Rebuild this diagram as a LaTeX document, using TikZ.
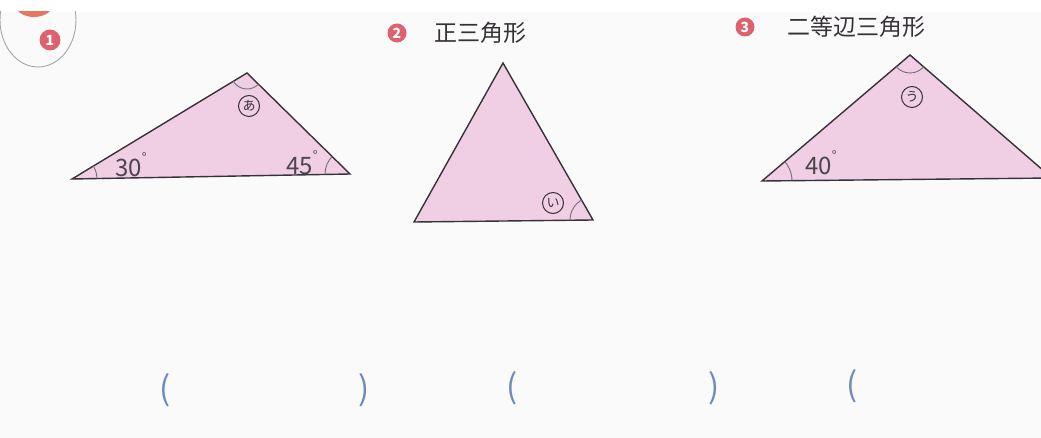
\documentclass[tikz,border=0pt]{standalone}
\usepackage{fontspec}
\setmainfont{Noto Sans CJK JP}
\definecolor{tri}{RGB}{240,206,228}
\definecolor{edge}{RGB}{55,50,55}
\definecolor{numred}{RGB}{222,98,110}
\definecolor{paren}{RGB}{108,140,186}
\definecolor{bg}{RGB}{250,250,251}
\definecolor{blob}{RGB}{230,120,95}
\newcommand{\dg}{\raisebox{1.1ex}{\fontsize{13}{13}\selectfont °}}
\tikzset{
  trishape/.style={fill=tri, draw=edge, line width=1.4pt, line join=miter},
  anglearc/.style={draw=edge!70, line width=0.9pt},
  kana/.style={circle, draw=edge, line width=1pt, inner sep=0pt, minimum size=21pt, font=\fontsize{13}{13}\selectfont, text=edge},
  deg/.style={font=\fontsize{24}{24}\selectfont, text=edge!90, inner sep=0pt},
  numbadge/.style={circle, fill=numred, text=white, inner sep=0pt, minimum size=21pt, font=\fontsize{14}{14}\selectfont\bfseries},
  title/.style={font=\fontsize{23}{23}\selectfont, text=edge, anchor=west, inner sep=0pt},
  par/.style={font=\fontsize{33}{33}\selectfont, text=paren, inner sep=0pt}
}
\begin{document}
\begin{tikzpicture}[x=1pt,y=-1pt]
\useasboundingbox (0,0) rectangle (1041,438);
\fill[bg] (0,0) rectangle (1041,438);
\fill[white] (0,0) rectangle (1041,12);
% corner decoration
\begin{scope}
  \clip (0,12) rectangle (120,120);
  \draw[gray!70, line width=0.9pt] (38,20) ellipse [x radius=38, y radius=47];
  \fill[blob] (34,4) ellipse [x radius=19, y radius=13];
\end{scope}
\node[numbadge] (n1) at (50,40) {1};
\node[numbadge, minimum size=19pt] (n2) at (397,33) {2};
\node[title] (t2) at (434,33) {正三角形};
\node[numbadge, minimum size=19pt] (n3) at (745,27) {3};
\node[title] (t3) at (787,27) {二等辺三角形};

% triangle 1
\coordinate (A1) at (72,179);
\coordinate (B1) at (350,174);
\coordinate (C1) at (247,73);
\path[trishape] (A1) -- (B1) -- (C1) -- cycle;
\begin{scope}
  \clip (A1) -- (B1) -- (C1) -- cycle;
  \draw[anglearc] (A1) circle (25);
  \draw[anglearc] (B1) circle (25);
  \draw[anglearc] (C1) circle (16);
\end{scope}
\node[deg] (d30) at (131,165) {30\dg};
\node[deg] (d45) at (302,163) {45\dg};
\node[kana] (ka) at (249,106) {あ};

% triangle 2
\coordinate (A2) at (414,222);
\coordinate (B2) at (593,220);
\coordinate (C2) at (503,63);
\path[trishape] (A2) -- (B2) -- (C2) -- cycle;
\begin{scope}
  \clip (A2) -- (B2) -- (C2) -- cycle;
  \draw[anglearc] (B2) circle (23);
\end{scope}
\node[kana] (ki) at (553,203) {い};

% triangle 3
\coordinate (A3) at (762,181);
\coordinate (B3) at (1052,178);
\coordinate (C3) at (910,55);
\path[trishape] (A3) -- (B3) -- (C3) -- cycle;
\begin{scope}
  \clip (A3) -- (B3) -- (C3) -- cycle;
  \draw[anglearc] (A3) circle (30);
  \draw[anglearc] (C3) circle (18);
\end{scope}
\node[deg] (d40) at (821,163) {40\dg};
\node[kana] (ku) at (912,97) {う};

% answer brackets
\node[par] (p1) at (165,390) {(};
\node[par] (p2) at (364,390) {)};
\node[par] (p3) at (512,388) {(};
\node[par] (p4) at (714,388) {)};
\node[par] (p5) at (852,386) {(};
\end{tikzpicture}
\end{document}
